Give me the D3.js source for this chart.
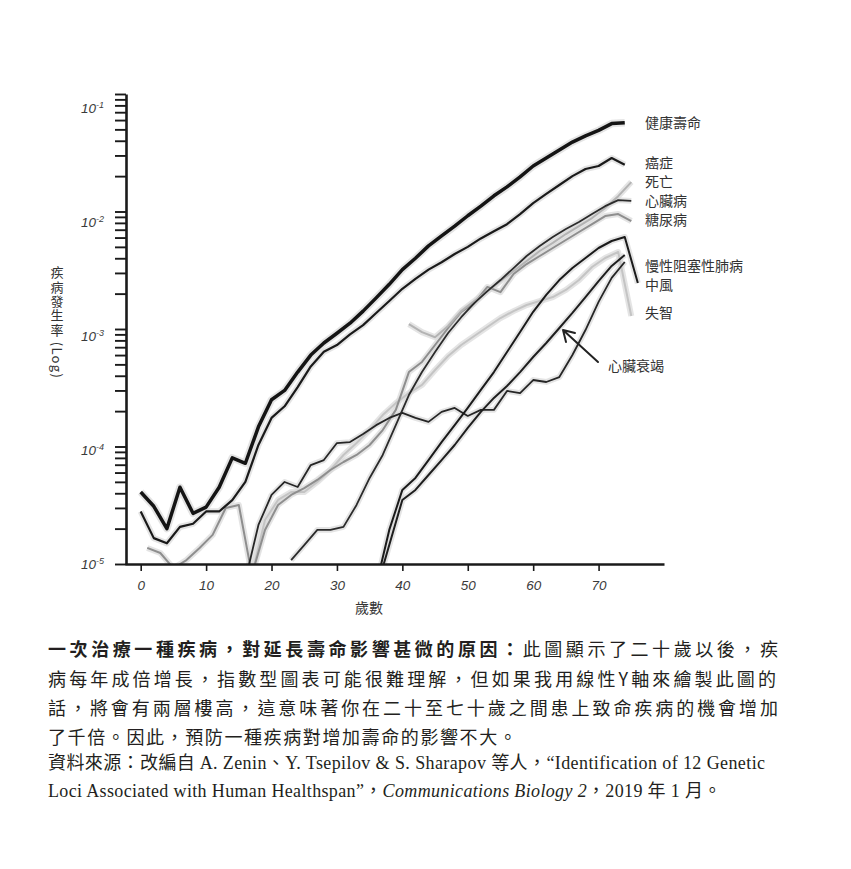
<!DOCTYPE html>
<html>
<head>
<meta charset="utf-8">
<script src="https://cdn.jsdelivr.net/npm/d3@7"></script>
<style>
  body { margin: 0; background: #fff; }
  svg { display: block; }
  .tick text { font-family: "Liberation Sans", Arial, sans-serif; }
</style>
</head>
<body>
<svg width="851" height="869"></svg>
<script>
// 年齡 (兩年一點)
const evenAges = [0,2,4,6,8,10,12,14,16,18,20,22,24,26,28,30,32,34,36,38,40,42,44,46,48,50,52,54,56,58,60,62,64,66,68,70,72,74];
const oddAges = [1,3,5,7,9,11,13,15,17,19,21,23,25,27,29,31,33,35,37,39,41,43,45,47,49,51,53,55,57,59,61,63,65,67,69,71,73,75];

// 健康壽命 (even 0-74)
const healthspan = [4.1e-5,3.1e-5,2.0e-5,4.5e-5,2.7e-5,3.05e-5,4.5e-5,8.0e-5,7.2e-5,1.47e-4,2.5e-4,3.0e-4,4.3e-4,6.0e-4,7.6e-4,9.2e-4,1.12e-3,1.42e-3,1.84e-3,2.4e-3,3.2e-3,4.0e-3,5.1e-3,6.2e-3,7.5e-3,9.2e-3,1.11e-2,1.36e-2,1.62e-2,1.97e-2,2.44e-2,2.85e-2,3.33e-2,3.9e-2,4.4e-2,4.9e-2,5.6e-2,5.7e-2];
// 癌症 (even 0-74)
const cancer = [2.8e-5,1.66e-5,1.5e-5,2.07e-5,2.2e-5,2.8e-5,2.8e-5,3.5e-5,5.0e-5,1.03e-4,1.75e-4,2.2e-4,3.2e-4,4.8e-4,6.4e-4,7.3e-4,9.0e-4,1.08e-3,1.37e-3,1.73e-3,2.2e-3,2.67e-3,3.2e-3,3.7e-3,4.35e-3,5.0e-3,5.9e-3,6.8e-3,7.8e-3,9.5e-3,1.18e-2,1.41e-2,1.68e-2,2.0e-2,2.3e-2,2.44e-2,2.85e-2,2.5e-2];
// 死亡 (odd 41-75)
const death = [null,null,null,null,null,null,null,null,null,null,null,null,null,null,null,null,null,null,null,null,1.10e-3,9.4e-4,8.5e-4,1.06e-3,1.42e-3,1.73e-3,2.10e-3,2.56e-3,3.11e-3,3.79e-3,4.61e-3,5.40e-3,6.43e-3,7.52e-3,8.79e-3,1.07e-2,1.35e-2,1.78e-2];
// 心臟病 (odd 23-75)
const heart = [null,null,null,null,null,null,null,null,null,null,null,1.08e-5,1.45e-5,1.95e-5,1.95e-5,2.07e-5,3.18e-5,5.40e-5,8.47e-5,1.52e-4,2.74e-4,4.30e-4,6.37e-4,9.25e-4,1.26e-3,1.66e-3,2.10e-3,2.61e-3,3.30e-3,4.18e-3,5.08e-3,6.07e-3,7.10e-3,8.13e-3,9.52e-3,1.11e-2,1.25e-2,1.23e-2];
// 糖尿病 (odd 1-75)
const diabetes = [1.37e-5,1.24e-5,9.2e-6,1.08e-5,1.37e-5,1.77e-5,3.0e-5,3.18e-5,8.1e-6,1.95e-5,3.18e-5,3.87e-5,4.43e-5,5.19e-5,6.31e-5,7.38e-5,8.47e-5,1.03e-4,1.38e-4,2.05e-4,4.30e-4,5.24e-4,7.31e-4,1.02e-3,1.40e-3,1.66e-3,2.28e-3,2.06e-3,2.94e-3,3.57e-3,4.18e-3,4.89e-3,5.72e-3,6.69e-3,7.82e-3,9.15e-3,9.52e-3,8.30e-3];
// 慢性阻塞性肺病 (even 16-74)
const copd = [null,null,null,null,null,null,null,null,7.3e-6,2.15e-5,3.87e-5,4.99e-5,4.52e-5,6.95e-5,7.67e-5,1.07e-4,1.09e-4,1.28e-4,1.52e-4,1.75e-4,1.93e-4,1.75e-4,1.62e-4,1.97e-4,2.13e-4,1.82e-4,2.05e-4,2.05e-4,2.97e-4,2.85e-4,3.68e-4,3.54e-4,3.90e-4,6.01e-4,9.8e-4,1.70e-3,2.72e-3,3.72e-3];
// 中風 (even 36-74, 76)
const strokeAges = [36,38,40,42,44,46,48,50,52,54,56,58,60,62,64,66,68,70,72,74,76];
const stroke = [6.6e-6,1.95e-5,4.27e-5,5.40e-5,7.67e-5,1.09e-4,1.52e-4,2.13e-4,3.03e-4,4.30e-4,6.37e-4,9.42e-4,1.40e-3,1.95e-3,2.61e-3,3.30e-3,4.02e-3,4.89e-3,5.61e-3,6.07e-3,2.46e-3];
// 心臟衰竭 (even 36-74)
const chf = [null,null,null,null,null,null,null,null,null,null,null,null,null,null,null,null,null,null,6.0e-6,1.45e-5,3.51e-5,4.27e-5,5.72e-5,7.67e-5,1.03e-4,1.44e-4,1.97e-4,2.59e-4,3.27e-4,4.30e-4,5.78e-4,7.60e-4,1.02e-3,1.37e-3,1.87e-3,2.56e-3,3.44e-3,4.26e-3];
// 失智 (odd 17-75)
const dementia = [null,null,null,null,null,null,null,null,8.1e-6,2.37e-5,3.51e-5,4.10e-5,4.10e-5,4.99e-5,6.31e-5,8.47e-5,1.07e-4,1.38e-4,1.85e-4,2.34e-4,2.85e-4,3.34e-4,4.48e-4,5.89e-4,7.31e-4,8.71e-4,1.04e-3,1.24e-3,1.42e-3,1.60e-3,1.73e-3,1.87e-3,2.15e-3,2.61e-3,3.37e-3,4.02e-3,4.52e-3,1.29e-3];

const xTicks = [0,10,20,30,40,50,60,70];
const yTicks = [1e-1,1e-2,1e-3,1e-4,1e-5];
const yTickLabels = ["-1","-2","-3","-4","-5"];

const svg = d3.select("svg");
const x = d3.scaleLinear().domain([-2.4, 80]).range([125, 664]);
const y = d3.scaleLog().domain([1e-5, 1e-1]).range([564, 94]);

svg.append("defs").append("clipPath").attr("id", "plot")
  .append("rect").attr("x", 126).attr("y", 80).attr("width", 540).attr("height", 484);

// 線條: 灰帶在下, 線在上
const series = [
  {ages: oddAges, vals: dementia, color: "#c4c4c4", w: 2},
  {ages: oddAges, vals: diabetes, color: "#8e8e8e", w: 2},
  {ages: oddAges, vals: death, color: "#b3b3b3", w: 2},
  {ages: evenAges, vals: copd, color: "#262626", w: 1.8},
  {ages: evenAges, vals: chf, color: "#1e1e1e", w: 2},
  {ages: strokeAges, vals: stroke, color: "#1a1a1a", w: 2},
  {ages: oddAges, vals: heart, color: "#2b2b2b", w: 1.8},
  {ages: evenAges, vals: cancer, color: "#1a1a1a", w: 2.2},
  {ages: evenAges, vals: healthspan, color: "#141414", w: 3.5}
];

const line = d3.line()
  .defined(d => d[1] != null)
  .x(d => x(d[0]))
  .y(d => y(d[1]));

const plotG = svg.append("g").attr("clip-path", "url(#plot)");
series.forEach(s => {
  const pts = s.ages.map((a, i) => [a, s.vals[i]]);
  plotG.append("path").attr("d", line(pts))
    .attr("fill", "none").attr("stroke", "#d9d9d9")
    .attr("stroke-width", s.w + 4).attr("stroke-linejoin", "round")
    .attr("opacity", 0.7);
});
series.forEach(s => {
  const pts = s.ages.map((a, i) => [a, s.vals[i]]);
  plotG.append("path").attr("d", line(pts))
    .attr("fill", "none").attr("stroke", s.color)
    .attr("stroke-width", s.w).attr("stroke-linejoin", "round");
});

// Y 軸
const yAxis = svg.append("g").attr("transform", "translate(126,0)")
  .call(d3.axisLeft(y).tickSize(11).tickSizeOuter(0).tickFormat(""));
yAxis.select(".domain").attr("stroke", "#1a1a1a").attr("stroke-width", 2.6);
yAxis.selectAll(".tick line").attr("stroke", "#1a1a1a").attr("stroke-width", 1.9);

// 刻度文字略低於刻度 (依原圖)
yTicks.forEach((v, i) => {
  const t = svg.append("text")
    .attr("x", 104).attr("y", y(v) + (4 - i) * 3.5 + 5)
    .attr("text-anchor", "end")
    .attr("font-family", "Liberation Sans, Arial, sans-serif")
    .attr("font-style", "italic")
    .attr("font-size", 13.5).attr("fill", "#3a3a3a");
  t.append("tspan").text("10");
  t.append("tspan").attr("font-size", 9).attr("dy", -5).text(yTickLabels[i]);
});

// X 軸
const xAxis = svg.append("g").attr("transform", "translate(0,564)")
  .call(d3.axisBottom(x).tickValues(xTicks).tickSize(7).tickSizeOuter(0));
xAxis.select(".domain").attr("stroke", "#1a1a1a").attr("stroke-width", 2.6);
xAxis.selectAll(".tick line").attr("stroke", "#1a1a1a").attr("stroke-width", 1.6);
xAxis.selectAll(".tick text").attr("font-size", 13.5).attr("font-style", "italic")
  .attr("fill", "#3a3a3a").attr("dy", "1.2em");

const cjk = "'Noto Sans CJK TC', 'Noto Sans CJK SC', sans-serif";

svg.append("text").attr("x", 369).attr("y", 613).attr("text-anchor", "middle")
  .attr("font-family", cjk).attr("font-size", 14).attr("fill", "#333").text("歲數");

// Y 軸標題 (直排, 拉丁字母自動側轉)
svg.append("text").attr("x", 57).attr("y", 266)
  .style("writing-mode", "vertical-rl")
  .attr("font-family", cjk).attr("font-size", 13).attr("letter-spacing", 1.3)
  .attr("fill", "#333").text("疾病發生率 (Log)");

// 右側標籤
const labelNames = ["健康壽命", "癌症", "死亡", "心臟病", "糖尿病", "慢性阻塞性肺病", "中風", "失智"];
const labelY = [123, 163, 182, 201, 220, 266, 285, 313];
labelNames.forEach((n, i) => {
  svg.append("text").attr("x", 645).attr("y", labelY[i] + 5)
    .attr("font-family", cjk).attr("font-size", 14).attr("fill", "#333").text(n);
});
svg.append("text").attr("x", 608).attr("y", 371)
  .attr("font-family", cjk).attr("font-size", 14).attr("fill", "#333").text("心臟衰竭");
svg.append("path").attr("d", "M598,362 L563,330 M563,330 L566,342 M563,330 L575,333")
  .attr("fill", "none").attr("stroke", "#222").attr("stroke-width", 2)
  .attr("stroke-linecap", "round");

// 說明文字
const cap = svg.append("g").attr("font-family", cjk).attr("fill", "#231f20");
const l1 = cap.append("text").attr("x", 48).attr("y", 656).attr("font-size", 18)
  .attr("textLength", 730).attr("lengthAdjust", "spacing");
l1.append("tspan").attr("font-weight", 700).text("一次治療一種疾病，對延長壽命影響甚微的原因：");
l1.append("tspan").text("此圖顯示了二十歲以後，疾");
cap.append("text").attr("x", 48).attr("y", 686).attr("font-size", 18)
  .attr("textLength", 728).attr("lengthAdjust", "spacing")
  .text("病每年成倍增長，指數型圖表可能很難理解，但如果我用線性Y軸來繪製此圖的");
cap.append("text").attr("x", 48).attr("y", 715).attr("font-size", 18)
  .attr("textLength", 730).attr("lengthAdjust", "spacing")
  .text("話，將會有兩層樓高，這意味著你在二十至七十歲之間患上致命疾病的機會增加");
cap.append("text").attr("x", 48).attr("y", 744).attr("font-size", 18)
  .attr("letter-spacing", 1.6)
  .text("了千倍。因此，預防一種疾病對增加壽命的影響不大。");

const serif = "'Liberation Serif', 'DejaVu Serif', serif";
const l5 = cap.append("text").attr("x", 48).attr("y", 769).attr("font-size", 18)
  .attr("letter-spacing", 0.4);
l5.append("tspan").text("資料來源：改編自 ");
l5.append("tspan").attr("font-family", serif).text("A. Zenin");
l5.append("tspan").text("、");
l5.append("tspan").attr("font-family", serif).text("Y. Tsepilov & S. Sharapov ");
l5.append("tspan").text("等人，");
l5.append("tspan").attr("font-family", serif).text("“Identification of 12 Genetic");

const l6 = cap.append("text").attr("x", 48).attr("y", 797).attr("font-size", 18)
  .attr("letter-spacing", 0.35);
l6.append("tspan").attr("font-family", serif).text("Loci Associated with Human Healthspan”");
l6.append("tspan").text("，");
l6.append("tspan").attr("font-family", serif).attr("font-style", "italic").text("Communications Biology 2");
l6.append("tspan").text("，");
l6.append("tspan").attr("font-family", serif).text("2019 ");
l6.append("tspan").text("年");
l6.append("tspan").attr("font-family", serif).text(" 1 ");
l6.append("tspan").text("月。");
</script>
</body>
</html>
